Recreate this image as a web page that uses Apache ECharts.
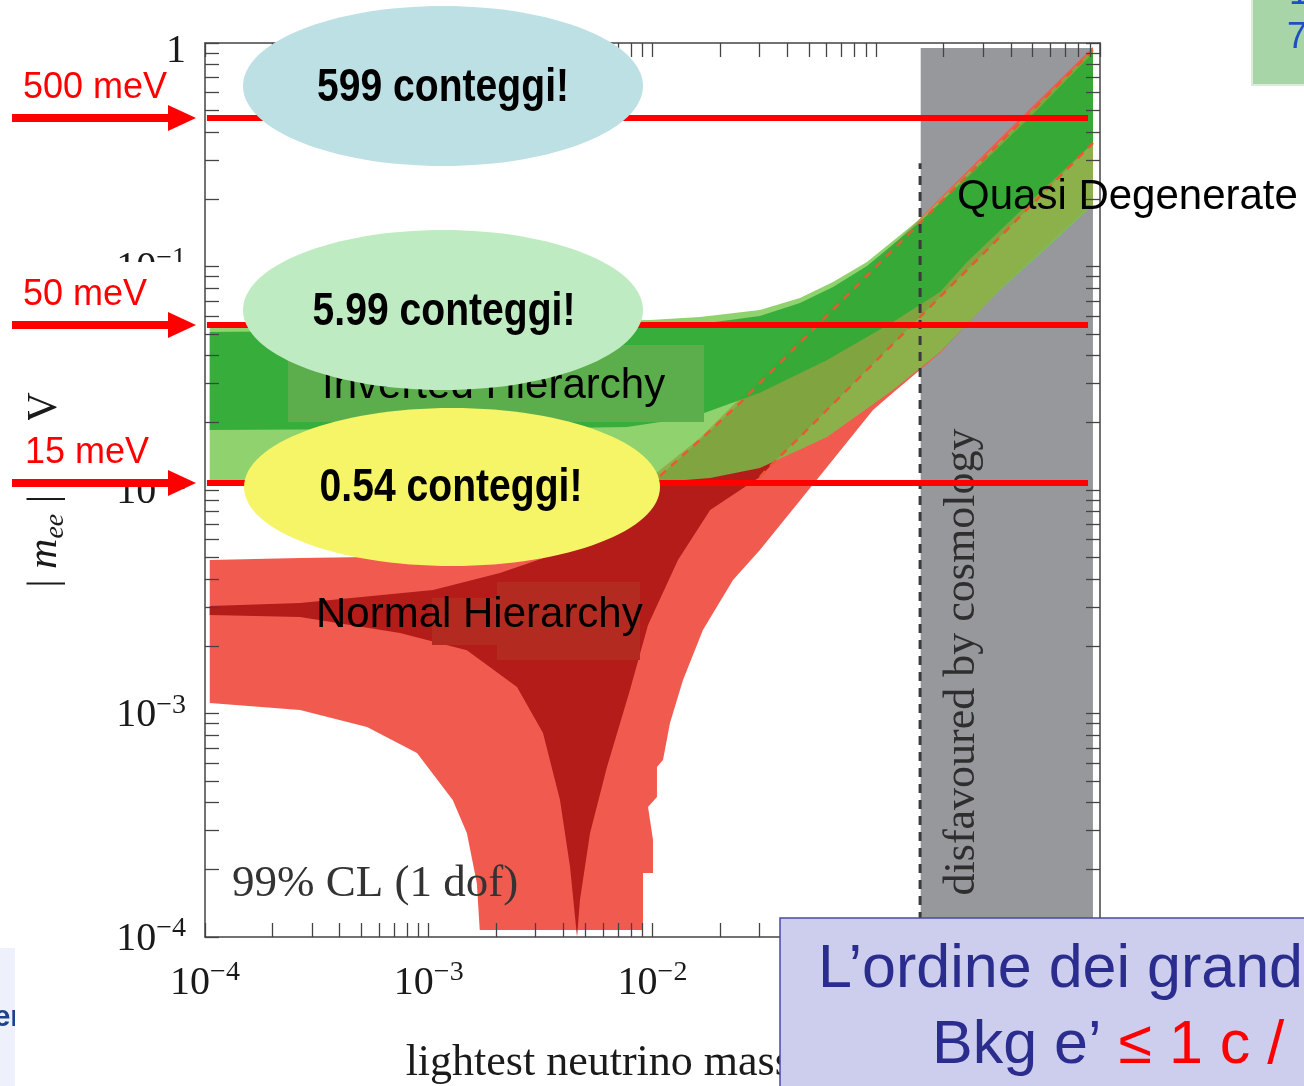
<!DOCTYPE html>
<html><head><meta charset="utf-8">
<script src="https://cdn.jsdelivr.net/npm/echarts@6/dist/echarts.min.js"></script>
<style>html,body{margin:0;padding:0;background:#fff;overflow:hidden}#c{width:1304px;height:1086px}</style>
</head><body><div id="c"></div>
<script>
// ---------- data (eV) ----------
const DECADES = [1e-4, 1e-3, 1e-2, 1e-1, 1];
const DECADE_LABELS = ['10^−4', '10^−3', '10^−2', '10^−1', '1'];
const TICKS = [1e-4,2e-4,3e-4,4e-4,5e-4,6e-4,7e-4,8e-4,9e-4,
  1e-3,2e-3,3e-3,4e-3,5e-3,6e-3,7e-3,8e-3,9e-3,
  1e-2,2e-2,3e-2,4e-2,5e-2,6e-2,7e-2,8e-2,9e-2,
  0.1,0.2,0.3,0.4,0.5,0.6,0.7,0.8,0.9,1];

// Inverted hierarchy (green): [lightest mass, |m_ee|]
const IH_OUTER_UPPER = [[1.05e-4,0.0547],[1.245e-3,0.0559],[9.74e-3,0.0576],[1.63e-2,0.0594],[3.02e-2,0.0639],[4.56e-2,0.0723],[6.41e-2,0.0852],[9.09e-2,0.1047],[0.1568,0.1631],[0.2544,0.260],[0.502,0.505],[0.93,0.935]];
const IH_OUTER_LOWER = [[1.05e-4,0.01042],[3.86e-3,0.01053],[1.08e-2,0.01086],[1.81e-2,0.01132],[3.02e-2,0.01254],[6.03e-2,0.01727],[0.1188,0.028],[0.1928,0.0414],[0.357,0.0785],[0.598,0.1249],[0.93,0.1884]];
const IH_INNER_UPPER = [[1.05e-4,0.0509],[1.245e-3,0.052],[9.74e-3,0.0536],[1.63e-2,0.0553],[3.02e-2,0.060],[4.56e-2,0.0687],[6.41e-2,0.081],[9.09e-2,0.1005],[0.1568,0.158],[0.2544,0.249],[0.502,0.48],[0.93,0.902]];
const IH_INNER_LOWER = [[1.05e-4,0.01855],[3.86e-3,0.01894],[7.69e-3,0.01913],[1.52e-2,0.0212],[3.02e-2,0.0272],[6.03e-2,0.0382],[0.1188,0.0564],[0.1928,0.0769],[0.2544,0.1047],[0.502,0.2005],[0.93,0.357]];

// Normal hierarchy (red)
const NH_OUTER_UPPER = [[1.05e-4,0.00486],[2.66e-4,0.00496],[5.3e-4,0.00501],[1.28e-3,0.00528],[2.56e-3,0.00597],[4.74e-3,0.00734],[7.93e-3,0.0095],[1.08e-2,0.0123],[1.63e-2,0.0171],[3.02e-2,0.0316],[4.56e-2,0.0478],[9.67e-2,0.101],[0.357,0.374],[0.93,0.96]];
const NH_OUTER_LOWER = [[1.05e-4,0.001114],[2.66e-4,0.001037],[5.3e-4,0.00087],[8.86e-4,0.000666],[1.28e-3,0.00041],[1.48e-3,0.000292],[1.64e-3,0.0001744],[1.69e-3,0.0001075],[9.07e-3,0.0001075],[9.07e-3,0.0001934],[1.005e-2,0.0001934],[1.005e-2,0.000272],[9.55e-3,0.000382],[1.047e-2,0.000423],[1.047e-2,0.000576],[1.114e-2,0.000619],[1.197e-2,0.000907],[1.369e-2,0.001413],[1.68e-2,0.002363],[2.29e-2,0.003957],[3.02e-2,0.00539],[6.03e-2,0.01267],[9.67e-2,0.0228],[0.1188,0.0272],[0.1928,0.041],[0.357,0.0793],[0.93,0.1924]];
const NH_INNER_UPPER = [[1.05e-4,0.00303],[2.66e-4,0.00312],[1.045e-3,0.00357],[2.08e-3,0.00425],[4.15e-3,0.00539],[7.16e-3,0.00773],[1.08e-2,0.01155],[1.63e-2,0.01674],[2.46e-2,0.0245],[4.56e-2,0.0456],[0.1277,0.1277],[0.357,0.357],[0.93,0.93]];
const NH_INNER_LOWER = [[1.05e-4,0.00276],[2.66e-4,0.0027],[7.44e-4,0.00229],[1.48e-3,0.00192],[2.48e-3,0.001314],[3.24e-3,0.000818],[3.86e-3,0.00041],[4.28e-3,0.0002056],[4.6e-3,0.0001],[4.74e-3,0.0001464],[5.26e-3,0.000292],[6.26e-3,0.000576],[7.93e-3,0.001274],[9.55e-3,0.00249],[1.3e-2,0.00486],[1.81e-2,0.00814],[3.02e-2,0.01143],[3.46e-2,0.0132],[4.56e-2,0.01727],[0.1277,0.0484],[0.357,0.1355],[0.93,0.357]];

// cosmology-disfavoured region
const COSMO_X = [0.158, 0.93];
const COSMO_Y = [1e-4, 0.95];
const COSMO_EDGE = [[0.157,1e-4],[0.157,0.29]];

// sensitivity levels
const LEVELS = [0.462, 0.0547, 0.01075];
const LEVEL_LABELS = ['500 meV', '50 meV', '15 meV'];
const LEVEL_X = [1.02e-4, 0.884];
const COUNTS = ['599 conteggi!', '5.99 conteggi!', '0.54 conteggi!'];

// ---------- chart ----------
const chart = echarts.init(document.getElementById('c'), null, {renderer:'canvas', width:1304, height:1086});
const SERIF = '"Liberation Serif", "Times New Roman", serif';
const SANS = '"Liberation Sans", Arial, sans-serif';

function band(name, upper, lower, color, z) {
  const pts = upper.concat(lower.slice().reverse());
  return {
    name, type:'custom', coordinateSystem:'cartesian2d', z, silent:true, clip:true,
    data: pts, encode:{x:0, y:1},
    renderItem(params, api) {
      if (params.dataIndex !== 0) return null;
      return {type:'polygon', shape:{points: pts.map(p => api.coord(p))}, style:{fill: color}};
    }
  };
}
function labelFmt(v) {
  let i = 0, best = 1e9;
  DECADES.forEach((d, k) => { const e = Math.abs(Math.log10(d) - Math.log10(v)); if (e < best) { best = e; i = k; } });
  const s = DECADE_LABELS[i];
  if (s.indexOf('^') < 0) return '{one|' + s + '}';
  const p = s.split('^');
  return '{b|' + p[0] + '}{s|' + p[1] + '}';
}
const labelRich = {
  b: {fontFamily: SERIF, fontSize: 40, lineHeight: 44, verticalAlign: 'bottom', color: '#1a1a1a'},
  s: {fontFamily: SERIF, fontSize: 28, lineHeight: 18, verticalAlign: 'top', color: '#1a1a1a'},
  one: {fontFamily: SERIF, fontSize: 40, lineHeight: 44, padding: [16,0,0,0], color: '#1a1a1a'}
};
const axisLine = {show:true, lineStyle:{color:'#444', width:1.5}};
const axisTick = {show:true, inside:true, length:14, customValues: TICKS, lineStyle:{color:'#444', width:1.3}};

function levelSeries(v, i) {
  return {name: LEVEL_LABELS[i], type:'line', z:10, silent:true, symbol:'none',
    data: [[LEVEL_X[0], v], [LEVEL_X[1], v]], lineStyle:{color:'#ff0000', width:6}};
}

const option = {
  animation: false,
  backgroundColor: '#ffffff',
  grid: {left:205, right:204, top:43, bottom:149, outerBoundsMode:'none', containLabel:false},
  xAxis: [
    {type:'log', logBase:10, min:1e-4, max:1, position:'bottom', z:11,
     axisLine, axisTick, splitLine:{show:false}, minorTick:{show:false},
     axisLabel:{customValues: DECADES, formatter: labelFmt, rich: labelRich, margin: 22},
     name:'lightest neutrino mass in eV', nameLocation:'middle', nameGap:104,
     nameTextStyle:{fontFamily: SERIF, fontSize:44, color:'#1a1a1a'}},
    {type:'log', logBase:10, min:1e-4, max:1, position:'top', z:11,
     axisLine, axisTick, splitLine:{show:false}, axisLabel:{show:false}}
  ],
  yAxis: [
    {type:'log', logBase:10, min:1e-4, max:1, position:'left', z:11,
     axisLine, axisTick, splitLine:{show:false},
     axisLabel:{customValues: DECADES, formatter: labelFmt, rich: labelRich, margin: 19},
     name:'{a|| }{m|m}{s|ee}{a| | in eV}', nameLocation:'middle', nameGap:135, nameRotate:90,
     nameTextStyle:{rich:{
       a:{fontFamily: SERIF, fontSize:42, lineHeight:50, color:'#1a1a1a'},
       m:{fontFamily: SERIF, fontSize:42, fontStyle:'italic', lineHeight:50, color:'#1a1a1a'},
       s:{fontFamily: SERIF, fontSize:28, fontStyle:'italic', lineHeight:28, verticalAlign:'bottom', color:'#1a1a1a'}
     }}},
    {type:'log', logBase:10, min:1e-4, max:1, position:'right', z:11,
     axisLine, axisTick, splitLine:{show:false}, axisLabel:{show:false}}
  ],
  series: [
    band('disfavoured by cosmology', [[COSMO_X[0], COSMO_Y[1]], [COSMO_X[1], COSMO_Y[1]]], [[COSMO_X[0], COSMO_Y[0]], [COSMO_X[1], COSMO_Y[0]]], '#97989b', 1),
    band('Normal Hierarchy (3σ)', NH_OUTER_UPPER, NH_OUTER_LOWER, '#f15b4f', 2),
    band('Normal Hierarchy (best fit)', NH_INNER_UPPER, NH_INNER_LOWER, '#b41c1a', 3),
    band('Inverted Hierarchy (3σ)', IH_OUTER_UPPER, IH_OUTER_LOWER, 'rgba(115,199,74,0.8)', 4),
    band('Inverted Hierarchy (best fit)', IH_INNER_UPPER, IH_INNER_LOWER, 'rgba(46,170,54,0.9)', 5),
    {name:'NH upper edge', type:'line', z:6, silent:true, symbol:'none',
     data: NH_INNER_UPPER.filter(p => p[0] >= 0.0108), lineStyle:{color:'#ea5a32', width:2.5, type:[8,7]}},
    {name:'NH lower edge', type:'line', z:6, silent:true, symbol:'none',
     data: NH_INNER_LOWER.filter(p => p[0] >= 0.0302), lineStyle:{color:'#ea5a32', width:2.5, type:[8,7]}},
    {name:'cosmology edge', type:'line', z:7, silent:true, symbol:'none',
     data: COSMO_EDGE, lineStyle:{color:'#3a3a3a', width:3, type:[9,7]}},
    ...LEVELS.map(levelSeries)
  ]
};
chart.setOption(option);

// ---------- annotations ----------
const ELLIPSES = [
  {cx:443, cy:86, rx:200, ry:80, fill:'#bce0e3'},
  {cx:443, cy:310, rx:200, ry:80, fill:'#bfebc2'},
  {cx:452, cy:487, rx:208, ry:79, fill:'#f5f567'}
];
const TEXT_POS = [[443,88],[444,312],[451,488]];
const g = [];
function txt(text, x, y, font, fill, z, align, extra) {
  return Object.assign({type:'text', z, silent:true, x, y,
    style:{text, x:0, y:0, font, fill, align: align || 'left', verticalAlign:'middle',
      textAlign: align || 'left', textVerticalAlign:'middle'}}, extra || {});
}
// region labels
g.push({type:'rect', z:8, silent:true, shape:{x:288, y:345, width:416, height:77}, style:{fill:'#5bae4b'}});
g.push(txt('Inverted Hierarchy', 322, 386, '42px ' + SANS, '#000', 9));
g.push({type:'rect', z:8, silent:true, shape:{x:432, y:598, width:160, height:47}, style:{fill:'#b32a20'}});
g.push({type:'rect', z:8, silent:true, shape:{x:497, y:582, width:143, height:78}, style:{fill:'#b32a20'}});
g.push(txt('Normal Hierarchy', 316, 615, '42px ' + SANS, '#000', 9));
g.push(txt('Quasi Degenerate', 957, 197, '42px ' + SANS, '#000', 14));
g.push(txt('99% CL (1 dof)', 232, 884, '45px ' + SERIF, '#333', 9));
g.push(txt('disfavoured by cosmology', 962, 662, '44px ' + SERIF, '#2e2e2e', 8, 'center', {rotation: Math.PI/2}));
// ellipses + counts
ELLIPSES.forEach((e, i) => {
  g.push({type:'ellipse', z:12, silent:true, shape:{cx:e.cx, cy:e.cy, rx:e.rx, ry:e.ry}, style:{fill:e.fill}});
  g.push({type:'group', x:TEXT_POS[i][0], y:TEXT_POS[i][1], scaleX:0.85, children:[
    {type:'text', z:13, silent:true, style:{text:COUNTS[i], x:0, y:0, font:'bold 46px ' + SANS, fill:'#000',
      align:'center', verticalAlign:'middle', textAlign:'center', textVerticalAlign:'middle'}}]});
});
// arrows
LEVELS.forEach((v, i) => {
  const py = chart.convertToPixel({yAxisIndex:0}, v);
  if (i > 0) g.push({type:'rect', z:12, silent:true, shape:{x:0, y:py-63, width:200, height:60}, style:{fill:'#fff'}});
  g.push({type:'rect', z:13, silent:true, shape:{x:12, y:py-4, width:160, height:8}, style:{fill:'#ff0000'}});
  g.push({type:'polygon', z:13, silent:true, shape:{points:[[168,py-13],[196,py],[168,py+13]]}, style:{fill:'#ff0000'}});
  g.push(txt(LEVEL_LABELS[i], i === 2 ? 25 : 23, py - 30, '36px ' + SANS, '#ff0000', 13));
});
// bottom-right box
g.push({type:'rect', z:15, silent:true, shape:{x:780, y:918, width:540, height:180}, style:{fill:'#cdcdee', stroke:'#4a4aa8', lineWidth:1.5}});
g.push(txt('L’ordine dei grand', 818, 970, '61px ' + SANS, '#2b2d8e', 16));
g.push({type:'text', z:16, silent:true, x:932, y:1046, style:{text:'{b|Bkg e’ }{r|≤ 1 c /}', x:0, y:0,
  align:'left', verticalAlign:'middle', textAlign:'left', textVerticalAlign:'middle',
  rich:{b:{fontFamily:SANS, fontSize:61, fill:'#2b2d8e', color:'#2b2d8e'}, r:{fontFamily:SANS, fontSize:61, fill:'#ff0000', color:'#ff0000'}}}});
// top-right box
g.push({type:'rect', z:15, silent:true, shape:{x:1252, y:-4, width:60, height:89}, style:{fill:'#a8d5a8', stroke:'#dcebdc', lineWidth:2}});
g.push(txt('1', 1289, -6, '36px ' + SANS, '#1d4fc4', 16));
g.push(txt('7', 1287, 38, '36px ' + SANS, '#1d4fc4', 16));
// bottom-left fragment
g.push(txt('er', 22, 1018, 'bold 30px ' + SANS, '#1d4191', 15, 'right'));
g.push({type:'rect', z:16, silent:true, shape:{x:15, y:990, width:30, height:50}, style:{fill:'#fff'}});
g.push({type:'rect', z:14, silent:true, shape:{x:-2, y:948, width:17, height:140}, style:{fill:'#eef0fb'}});

chart.setOption({graphic: {elements: g}});
</script>
</body></html>
